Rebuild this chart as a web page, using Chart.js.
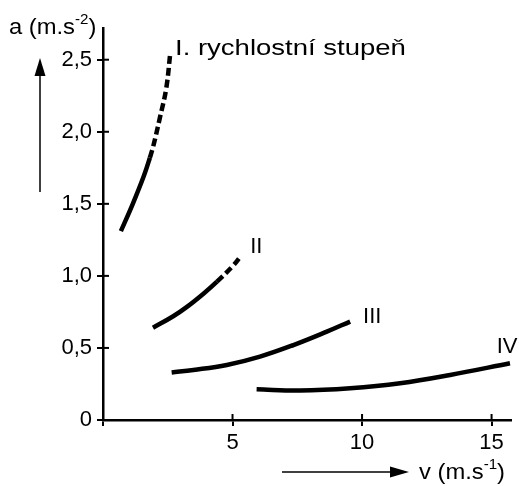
<!DOCTYPE html>
<html>
<head>
<meta charset="utf-8">
<script src="https://cdn.jsdelivr.net/npm/chart.js@4.4.0/dist/chart.umd.min.js"></script>
<style>
  html, body { margin: 0; padding: 0; background: #fff; }
</style>
</head>
<body>
<canvas id="chart" width="519" height="486"></canvas>
<script>
// values: v (m.s-1) against a (m.s-2) for each gear
var gear1V = [0.69, 1.15, 1.59, 1.81, 1.94, 2.2, 2.44, 2.6];
var gear1A = [1.31, 1.5, 1.7, 1.82, 1.9, 2.1, 2.3, 2.55];
var gear2V = [1.93, 2.71, 3.24, 3.9, 4.4, 5.02, 5.29];
var gear2A = [0.64, 0.72, 0.785, 0.88, 0.96, 1.07, 1.13];
var gear3V = [2.65, 3.49, 4.78, 6.06, 7.35, 8.64, 9.54];
var gear3A = [0.33, 0.347, 0.382, 0.44, 0.52, 0.613, 0.683];
var gear4V = [5.93, 7.61, 9.54, 11.47, 13.4, 15.71];
var gear4A = [0.213, 0.204, 0.22, 0.255, 0.3125, 0.394];

// from which point on each curve is drawn dashed
var gear1DashFrom = 3;
var gear2DashFrom = 4;

// tick labels
var xTicks = [0, 5, 10, 15];
var yTicks = [0, 0.5, 1.0, 1.5, 2.0, 2.5];

// curve names and where they sit (v, a)
var curveNames = ['I. rychlostní stupeň', 'II', 'III', 'IV'];
var curveNameV = [2.78, 5.68, 10.04, 15.2];
var curveNameA = [2.53, 1.16, 0.67, 0.465];

var FONT = '"Liberation Sans", Arial, sans-serif';

function toPoints(xs, ys) {
  return xs.map(function (x, i) { return {x: x, y: ys[i]}; });
}

function curve(xs, ys, dashFrom) {
  return {
    data: toPoints(xs, ys),
    borderColor: '#000',
    borderWidth: 4.5,
    borderCapStyle: 'butt',
    pointRadius: 0,
    showLine: true,
    fill: false,
    tension: 0.4,
    segment: {
      borderDash: function (ctx) {
        return (dashFrom !== undefined && ctx.p0DataIndex >= dashFrom) ? [8, 4] : undefined;
      }
    }
  };
}

function commaLabel(v) {
  return v === 0 ? '0' : v.toFixed(1).replace('.', ',');
}

// draws the inner half of the ticks, arrows, axis names and curve names
var extras = {
  id: 'extras',
  afterDraw: function (chart) {
    var ctx = chart.ctx;
    var xs = chart.scales.x, ys = chart.scales.y;
    var left = chart.chartArea.left, bottom = chart.chartArea.bottom;
    ctx.save();
    ctx.strokeStyle = '#000';
    ctx.fillStyle = '#000';
    ctx.lineWidth = 2;

    // inner tick stubs
    yTicks.forEach(function (t) {
      var py = ys.getPixelForValue(t);
      ctx.beginPath(); ctx.moveTo(left, py); ctx.lineTo(left + 6, py); ctx.stroke();
    });
    xTicks.forEach(function (t) {
      var px = xs.getPixelForValue(t);
      ctx.beginPath(); ctx.moveTo(px, bottom); ctx.lineTo(px, bottom - 6); ctx.stroke();
    });

    // curve names
    ctx.font = '22px ' + FONT;
    ctx.textBaseline = 'alphabetic';
    ctx.textAlign = 'left';
    curveNames.forEach(function (name, i) {
      var px = xs.getPixelForValue(curveNameV[i]);
      var py = ys.getPixelForValue(curveNameA[i]);
      ctx.save();
      ctx.translate(px, py);
      if (i === 0) ctx.scale(1.25, 1);
      ctx.fillText(name, 0, 0);
      ctx.restore();
    });

    // axis names with superscripts
    function unitLabel(x, y, main, sup, tail) {
      ctx.save();
      ctx.translate(x, y);
      ctx.scale(1.08, 1);
      ctx.font = '22px ' + FONT;
      ctx.fillText(main, 0, 0);
      var w = ctx.measureText(main).width;
      ctx.font = '14px ' + FONT;
      ctx.fillText(sup, w, -10);
      var w2 = ctx.measureText(sup).width;
      ctx.font = '22px ' + FONT;
      ctx.fillText(tail, w + w2, 0);
      ctx.restore();
    }
    unitLabel(9, 34, 'a (m.s', '-2', ')');
    unitLabel(419, 479, 'v (m.s', '-1', ')');

    // arrows
    ctx.lineWidth = 1.5;
    ctx.beginPath(); ctx.moveTo(40, 192); ctx.lineTo(40, 70); ctx.stroke();
    ctx.beginPath(); ctx.moveTo(40, 58); ctx.lineTo(34.5, 76); ctx.lineTo(45.5, 76); ctx.closePath(); ctx.fill();
    ctx.beginPath(); ctx.moveTo(282, 472); ctx.lineTo(392, 472); ctx.stroke();
    ctx.beginPath(); ctx.moveTo(409, 472); ctx.lineTo(390, 466.5); ctx.lineTo(390, 477.5); ctx.closePath(); ctx.fill();

    ctx.restore();
  }
};

var ctxMain = document.getElementById('chart').getContext('2d');
var chart = new Chart(ctxMain, {
  type: 'scatter',
  data: {
    datasets: [
      curve(gear1V, gear1A, gear1DashFrom),
      curve(gear2V, gear2A, gear2DashFrom),
      curve(gear3V, gear3A),
      curve(gear4V, gear4A)
    ]
  },
  options: {
    responsive: false,
    devicePixelRatio: 1,
    animation: false,
    layout: { padding: { top: 28, right: 8, left: 0, bottom: 0 } },
    plugins: { legend: { display: false }, tooltip: { enabled: false } },
    scales: {
      x: {
        type: 'linear',
        min: 0,
        max: 15.75,
        afterFit: function (scale) { scale.height = 66; },
        afterBuildTicks: function (scale) {
          scale.ticks = xTicks.map(function (v) { return {value: v}; });
        },
        grid: { drawOnChartArea: false, color: '#000', lineWidth: 2, tickLength: 6 },
        border: { color: '#000', width: 2.5 },
        ticks: {
          color: '#000',
          padding: 4,
          font: { family: FONT, size: 22 },
          callback: function (v) { return v === 0 ? '' : String(v); }
        }
      },
      y: {
        type: 'linear',
        min: 0,
        max: 2.72,
        afterFit: function (scale) { scale.width = 103; },
        afterBuildTicks: function (scale) {
          scale.ticks = yTicks.map(function (v) { return {value: v}; });
        },
        grid: { drawOnChartArea: false, color: '#000', lineWidth: 2, tickLength: 6 },
        border: { color: '#000', width: 2.5 },
        ticks: {
          color: '#000',
          padding: 5,
          font: { family: FONT, size: 22 },
          callback: function (v) { return commaLabel(v); }
        }
      }
    }
  },
  plugins: [extras]
});
</script>
</body>
</html>
